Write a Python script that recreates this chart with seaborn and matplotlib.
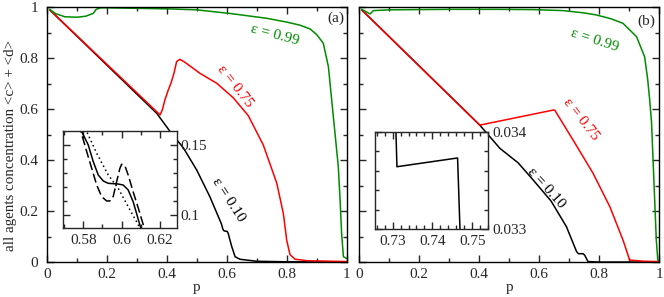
import numpy as np
import pandas as pd
import matplotlib
matplotlib.use("Agg")
import matplotlib.pyplot as plt
from matplotlib.ticker import MultipleLocator, FixedLocator, FuncFormatter
import seaborn as sns

# ---------------- data ----------------
# panel (a)
pa_g = [0.01, 0.03, 0.06, 0.10, 0.13, 0.155, 0.165, 0.18, 0.2, 0.3, 0.4, 0.5, 0.61, 0.733, 0.8,
        0.844, 0.878, 0.9, 0.922, 0.939, 0.95, 0.961, 0.972, 0.978, 0.983, 0.989, 1.0]
ya_g = [0.992, 0.975, 0.963, 0.961, 0.965, 0.976, 0.992, 0.998, 0.998, 0.996, 0.994, 0.990, 0.976,
        0.957, 0.942, 0.93, 0.915, 0.893, 0.859, 0.767, 0.636, 0.506, 0.375, 0.244, 0.114, 0.022, 0.015]

pa_r = [0.01, 0.378, 0.386, 0.394, 0.405, 0.415, 0.425, 0.433, 0.444, 0.46, 0.511, 0.567, 0.622,
        0.672, 0.722, 0.767, 0.789, 0.80, 0.811, 0.828, 0.87, 1.0]
ya_r = [0.99, 0.578, 0.60, 0.637, 0.675, 0.705, 0.745, 0.787, 0.796, 0.785, 0.741, 0.702, 0.645,
        0.575, 0.46, 0.31, 0.19, 0.087, 0.03, 0.012, 0.006, 0.003]

pa_k = [0.01, 0.367, 0.41, 0.456, 0.5, 0.544, 0.5792, 0.5826, 0.5852, 0.5878, 0.5904, 0.593,
        0.5982, 0.6008, 0.6034, 0.606, 0.6095, 0.617, 0.628, 0.644, 0.7, 0.8, 1.0]
ya_k = [0.99, 0.584, 0.515, 0.448, 0.362, 0.257, 0.1595, 0.15, 0.1381, 0.1286, 0.1243, 0.1226,
        0.1221, 0.1214, 0.1179, 0.1095, 0.0929, 0.061, 0.022, 0.012, 0.004, 0.002, 0.001]

# inset (a): dashed and dotted companions of the solid curve
pi_dash = [0.5775, 0.5788, 0.5818, 0.5844, 0.587, 0.5896, 0.5922, 0.5939, 0.5956, 0.5974, 0.5991,
           0.6, 0.6017, 0.6034, 0.606, 0.6087, 0.6113, 0.6125]
yi_dash = [0.165, 0.1595, 0.1452, 0.1333, 0.1214, 0.1131, 0.110, 0.110, 0.1131, 0.1238, 0.1333,
           0.1362, 0.1352, 0.1286, 0.1166, 0.1048, 0.0929, 0.085]
pi_dot = [0.5805, 0.5818, 0.587, 0.593, 0.5982, 0.6034, 0.6087, 0.61]
yi_dot = [0.165, 0.1595, 0.1441, 0.1286, 0.1191, 0.1059, 0.0929, 0.085]

# panel (b)
pb_g = [0.008, 0.036, 0.047, 0.1, 0.2, 0.3, 0.458, 0.58, 0.68, 0.75, 0.791, 0.84, 0.88, 0.925,
        0.952, 0.962, 0.969, 0.975, 0.982, 0.991, 0.996, 1.0]
yb_g = [0.992, 0.974, 0.987, 0.99, 0.991, 0.992, 0.992, 0.991, 0.987, 0.978, 0.97, 0.955, 0.937,
        0.885, 0.806, 0.72, 0.636, 0.55, 0.349, 0.087, 0.009, 0.005]

pb_r = [0.008, 0.402, 0.647, 0.652, 0.713, 0.78, 0.836, 0.88, 0.902, 0.95, 1.0]
yb_r = [0.99, 0.538, 0.597, 0.597, 0.48, 0.349, 0.218, 0.087, 0.009, 0.004, 0.003]

pb_k = [0.008, 0.402, 0.425, 0.469, 0.53, 0.58, 0.64, 0.691, 0.725, 0.7305, 0.7311, 0.7463,
        0.7469, 0.752, 0.763, 0.8, 1.0]
yb_k = [0.99, 0.538, 0.507, 0.447, 0.39, 0.323, 0.24, 0.14, 0.042, 0.0345, 0.03364, 0.03373,
        0.033, 0.028, 0.003, 0.001, 0.001]

eps_labels = ["ε = 0.10", "ε = 0.75", "ε = 0.99"]
main_ticks = [0, 0.2, 0.4, 0.6, 0.8, 1.0]

GREEN = "#008b00"
RED = "#ff0000"
BLACK = "#000000"
palette = {"ε = 0.10": BLACK, "ε = 0.75": RED, "ε = 0.99": GREEN}


def frame(curves):
    rows = []
    for lab, ps, ys in curves:
        for p, y in zip(ps, ys):
            rows.append({"p": p, "c": y, "eps": lab})
    return pd.DataFrame(rows)


df_a = frame([(eps_labels[0], pa_k, ya_k), (eps_labels[1], pa_r, ya_r), (eps_labels[2], pa_g, ya_g)])
df_b = frame([(eps_labels[0], pb_k, yb_k), (eps_labels[1], pb_r, yb_r), (eps_labels[2], pb_g, yb_g)])
df_in = pd.concat([
    pd.DataFrame({"p": pa_k, "c": ya_k, "kind": "solid"}),
    pd.DataFrame({"p": pi_dash, "c": yi_dash, "kind": "dashed"}),
    pd.DataFrame({"p": pi_dot, "c": yi_dot, "kind": "dotted"}),
])
df_inb = pd.DataFrame({"p": pb_k, "c": yb_k})

# ---------------- style ----------------
sns.set_theme(style="ticks")
plt.rcParams["font.family"] = ["Liberation Serif", "DejaVu Serif"]
plt.rcParams["font.size"] = 11
plt.rcParams["axes.linewidth"] = 1.0

W, H = 664, 297
fig = plt.figure(figsize=(W / 100, H / 100), dpi=100)


def fbox(x0, y0, x1, y1):
    return [x0 / W, (H - y1) / H, (x1 - x0) / W, (y1 - y0) / H]


ax_a = fig.add_axes(fbox(46.7, 7.3, 346.7, 262.3))
ax_b = fig.add_axes(fbox(359.3, 7.3, 659.0, 262.3))
fmt = FuncFormatter(lambda v, pos: "%g" % round(v, 6))

LW = 1.1
for ax, df in ((ax_a, df_a), (ax_b, df_b)):
    sns.lineplot(data=df, x="p", y="c", hue="eps", palette=palette, hue_order=eps_labels,
                 sort=False, estimator=None, linewidth=LW, legend=False, ax=ax)
    ax.set_xlim(0, 1)
    ax.set_ylim(0, 1)
    ax.xaxis.set_major_locator(FixedLocator(main_ticks))
    ax.yaxis.set_major_locator(FixedLocator(main_ticks))
    ax.xaxis.set_minor_locator(MultipleLocator(0.1))
    ax.yaxis.set_minor_locator(MultipleLocator(0.1))
    ax.xaxis.set_major_formatter(fmt)
    ax.yaxis.set_major_formatter(fmt)
    ax.tick_params(which="both", direction="in", top=True, right=True, width=1.0, labelsize=11)
    ax.tick_params(which="major", length=5)
    ax.tick_params(which="minor", length=3)
    ax.tick_params(axis="x", pad=4)
    ax.tick_params(axis="y", pad=6)
    ax.set_xlabel("p", fontsize=11, labelpad=0)
    for s in ax.spines.values():
        s.set_visible(True)
        s.set_color("black")

ax_a.set_ylabel("all agents concentration <c> + <d>", fontsize=10.8)
ax_a.yaxis.set_label_coords(-0.1, 0.46)
ax_b.set_ylabel("")
ax_b.tick_params(axis="y", labelleft=False)

# annotations
def note(ax, x, y, s, color, rot):
    ax.text(x, y, s, color=color, rotation=rot, ha="center", va="center",
            rotation_mode="anchor", fontsize=11, transform=ax.transData)

note(ax_a, 0.761, 0.891, "ε = 0.99", GREEN, -15)
note(ax_a, 0.628, 0.690, "ε = 0.75", RED, -52)
note(ax_a, 0.606, 0.244, "ε = 0.10", BLACK, -57)
ax_a.text(0.964, 0.958, "(a)", ha="center", va="center", fontsize=11)
note(ax_b, 0.786, 0.872, "ε = 0.99", GREEN, -18)
note(ax_b, 0.740, 0.562, "ε = 0.75", RED, -52)
note(ax_b, 0.622, 0.291, "ε = 0.10", BLACK, -48)
ax_b.text(0.959, 0.946, "(b)", ha="center", va="center", fontsize=11)

# inset (a)
ia = fig.add_axes(fbox(63.3, 131.5, 176.7, 228.0))
ia.set_facecolor("white")
sns.lineplot(data=df_in, x="p", y="c", style="kind", style_order=["solid", "dashed", "dotted"],
             dashes={"solid": "", "dashed": (6, 2.5), "dotted": (1, 2)}, color=BLACK,
             sort=False, estimator=None, linewidth=1.1, legend=False, ax=ia)
ia.set_xlim(0.5696, 0.6287)
ia.set_ylim(0.0907, 0.1596)
ia.xaxis.set_major_locator(MultipleLocator(0.02))
ia.xaxis.set_minor_locator(MultipleLocator(0.01))
ia.yaxis.set_major_locator(MultipleLocator(0.05))
ia.yaxis.set_minor_locator(MultipleLocator(0.01))
ia.xaxis.set_major_formatter(fmt)
ia.yaxis.set_major_formatter(fmt)
ia.tick_params(which="both", direction="in", top=True, right=True, left=True,
               labelleft=False, labelright=True, labelsize=11, width=1.0)
ia.tick_params(which="major", length=5)
ia.tick_params(which="minor", length=3)
ia.tick_params(axis="x", pad=4)
ia.tick_params(axis="y", pad=3)
ia.set_xlabel("")
ia.set_ylabel("")

# inset (b)
ib = fig.add_axes(fbox(375.0, 131.7, 488.3, 229.0))
ib.set_facecolor("white")
sns.lineplot(data=df_inb, x="p", y="c", color=BLACK, sort=False, estimator=None,
             linewidth=1.1, legend=False, ax=ib)
ib.set_xlim(0.7256, 0.7540)
ib.set_ylim(0.033, 0.034)
ib.xaxis.set_major_locator(FixedLocator([0.73, 0.74, 0.75]))
ib.xaxis.set_minor_locator(MultipleLocator(0.002))
ib.yaxis.set_major_locator(FixedLocator([0.033, 0.034]))
ib.yaxis.set_minor_locator(MultipleLocator(0.0002))
ib.xaxis.set_major_formatter(fmt)
ib.yaxis.set_major_formatter(fmt)
ib.tick_params(which="both", direction="in", top=True, right=True, left=True,
               labelleft=False, labelright=True, labelsize=11, width=1.0)
ib.tick_params(which="major", length=5)
ib.tick_params(which="minor", length=3)
ib.tick_params(axis="x", pad=4)
ib.tick_params(axis="y", pad=3)
ib.set_xlabel("")
ib.set_ylabel("")

fig.savefig("out.png", dpi=100)
